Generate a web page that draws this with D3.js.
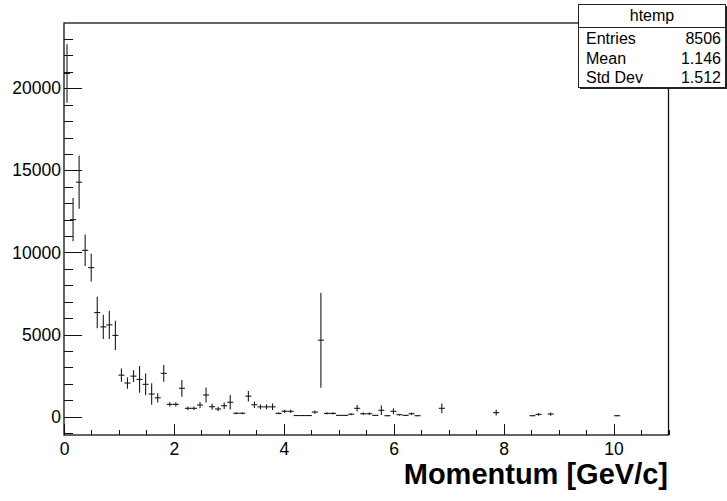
<!DOCTYPE html>
<html>
<head>
<meta charset="utf-8">
<script src="https://cdn.jsdelivr.net/npm/d3@7"></script>
<style>
  body { margin: 0; background: #fff; }
  svg { display: block; font-family: "Liberation Sans", Arial, sans-serif; }
</style>
</head>
<body>
<svg></svg>
<script>
const [WIDTH, HEIGHT] = [727, 501]

// histogram: 100 bins from 0 to 11 GeV/c, only the filled bins are listed
const nBins = 100
const xMin = 0, xMax = 11
const binNumbers = [1, 2, 3, 4, 5, 6, 7, 8, 9, 10,
    11, 12, 13, 14, 15, 16, 17, 18, 19, 20,
    21, 22, 23, 24, 25, 26, 27, 28, 29, 30,
    31, 32, 33, 34, 35, 36, 37, 38, 39, 40,
    41, 42, 43, 44, 45, 46, 47, 48, 49, 50,
    51, 52, 53, 54, 55, 56, 57, 58, 59, 63,
    72, 78, 79, 81, 92]
const counts = [20900, 12000, 14280, 10130, 9080, 6340, 5470, 5590, 4950, 2530,
    2050, 2470, 2270, 1970, 1380, 1150, 2640, 750, 750, 1730,
    510, 510, 710, 1320, 610, 470, 670, 880, 210, 210,
    1250, 730, 600, 600, 600, 200, 330, 330, 70, 70,
    70, 280, 4660, 200, 200, 80, 80, 150, 510, 180,
    180, 80, 390, 60, 330, 120, 80, 180, 60, 510,
    250, 60, 140, 160, 60]
const errors = [1780, 1320, 1620, 960, 840, 960, 740, 860, 890, 400,
    350, 360, 810, 660, 660, 280, 510, 130, 130, 510,
    110, 110, 180, 455, 180, 130, 200, 435, 60, 60,
    320, 200, 150, 150, 200, 50, 100, 100, 30, 30,
    30, 100, 2890, 70, 70, 30, 30, 60, 200, 70,
    70, 30, 285, 30, 180, 50, 30, 80, 30, 300,
    180, 30, 80, 100, 40]

const xMajorTicks = [0, 2, 4, 6, 8, 10]
const yMajorTicks = [0, 5000, 10000, 15000, 20000]

const statsTitle = "htemp"
const statsLabels = ["Entries", "Mean", "Std Dev"]
const statsValues = ["8506", "1.146", "1.512"]
const xTitle = "Momentum [GeV/c]"

const frame = { left: 64, right: 668.5, top: 23, bottom: 435 }

const svg = d3.select("svg")
    .attr("width", WIDTH)
    .attr("height", HEIGHT)
    .attr("viewBox", "0 0 " + WIDTH + " " + HEIGHT)

const x = d3.scaleLinear().domain([xMin, xMax]).range([frame.left, frame.right])
const y = d3.scaleLinear().domain([-1115, 23975]).range([frame.bottom, frame.top])

const binWidth = (xMax - xMin) / nBins
const points = binNumbers.map((b, i) => ({
    lo: xMin + (b - 1) * binWidth,
    hi: xMin + b * binWidth,
    v: counts[i],
    e: errors[i]
}))

// minor ticks
const xMinor = d3.range(0, 11.01, 0.5).filter(t => t % 2 !== 0)
const yMinor = d3.range(-1000, 23001, 1000).filter(t => t % 5000 !== 0)

const gx = svg.append("g").attr("transform", `translate(0,${frame.bottom})`)
gx.append("g").call(d3.axisBottom(x).tickValues(xMinor).tickSize(-5.5).tickFormat(""))
gx.append("g").call(d3.axisBottom(x).tickValues(xMajorTicks).tickSize(-11).tickPadding(8)
    .tickFormat(d3.format("d")))

const gy = svg.append("g").attr("transform", `translate(${frame.left},0)`)
gy.append("g").call(d3.axisLeft(y).tickValues(yMinor).tickSize(-9).tickFormat(""))
gy.append("g").call(d3.axisLeft(y).tickValues(yMajorTicks).tickSize(-18).tickPadding(3)
    .tickFormat(d3.format("d")))

svg.selectAll(".domain").remove()
svg.selectAll(".tick line").attr("stroke", "#111").attr("shape-rendering", "crispEdges")
svg.selectAll(".tick text")
    .attr("font-family", "Liberation Sans, Arial, sans-serif")
    .attr("font-size", 17.5)
    .attr("fill", "#000")

// frame
svg.append("rect")
    .attr("x", frame.left).attr("y", frame.top)
    .attr("width", frame.right - frame.left).attr("height", frame.bottom - frame.top)
    .attr("fill", "none").attr("stroke", "#111").attr("stroke-width", 1.3)

// error bars
const marks = svg.append("g").attr("stroke", "#1a1a1a").attr("stroke-width", 1.1)
marks.selectAll(".ex").data(points).enter().append("line")
    .attr("x1", d => x(d.lo)).attr("x2", d => x(d.hi))
    .attr("y1", d => y(d.v)).attr("y2", d => y(d.v))
marks.selectAll(".ey").data(points).enter().append("line")
    .attr("x1", d => x((d.lo + d.hi) / 2)).attr("x2", d => x((d.lo + d.hi) / 2))
    .attr("y1", d => y(d.v - d.e)).attr("y2", d => y(d.v + d.e))

// x title
svg.append("text")
    .attr("x", 668).attr("y", 484)
    .attr("text-anchor", "end")
    .attr("font-size", 29).attr("font-weight", "bold")
    .text(xTitle)

// stats box
const box = { x: 578.5, y: 4.5, w: 147, h: 83 }
const gs = svg.append("g")
gs.append("rect")
    .attr("x", box.x + 1.5).attr("y", box.y + 1.5).attr("width", box.w).attr("height", box.h)
    .attr("fill", "#222")
gs.append("rect")
    .attr("x", box.x).attr("y", box.y).attr("width", box.w).attr("height", box.h)
    .attr("fill", "#fff").attr("stroke", "#222").attr("stroke-width", 1)
gs.append("line")
    .attr("x1", box.x).attr("x2", box.x + box.w)
    .attr("y1", 27.5).attr("y2", 27.5)
    .attr("stroke", "#222")
gs.append("text")
    .attr("x", box.x + box.w / 2).attr("y", 21)
    .attr("text-anchor", "middle").attr("font-size", 16)
    .text(statsTitle)
const rowY = [44.3, 63.8, 82.5]
gs.selectAll(".sl").data(statsLabels).enter().append("text")
    .attr("x", 586).attr("y", (d, i) => rowY[i])
    .attr("font-size", 16).text(d => d)
gs.selectAll(".sv").data(statsValues).enter().append("text")
    .attr("x", 721).attr("y", (d, i) => rowY[i])
    .attr("text-anchor", "end").attr("font-size", 16).text(d => d)
</script>
</body>
</html>
